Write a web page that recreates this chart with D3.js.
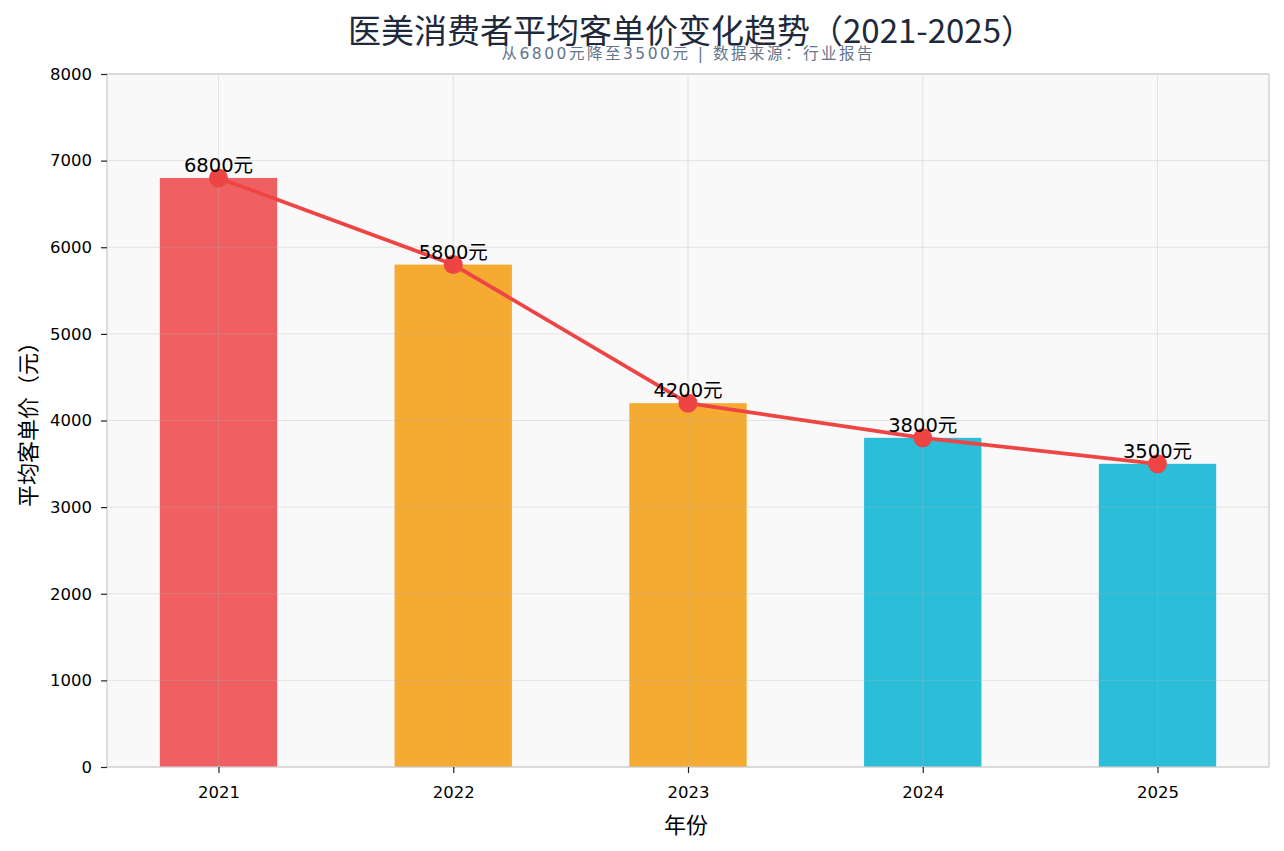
<!DOCTYPE html>
<meta charset="utf-8">
<style>
  body { margin: 0; background: #fff; }
  svg { display: block; font-family: "DejaVu Sans", "Noto Sans CJK SC", sans-serif; }
</style>
<svg width="1284" height="851"></svg>
<script src="https://d3js.org/d3.v7.min.js"></script>
<script>
// data
const years = ["2021", "2022", "2023", "2024", "2025"]
const prices = [6800, 5800, 4200, 3800, 3500]
const barColors = ["#F06062", "#F5AB32", "#F5AB32", "#2BBED8", "#2BBED8"]
const yTicks = [0, 1000, 2000, 3000, 4000, 5000, 6000, 7000, 8000]

const svg = d3.select("svg")
const plotL = 107, plotR = 1269, plotT = 74, plotB = 767

// x like matplotlib: bar positions 0..4, width 0.5, 5% margins
const x = d3.scaleLinear().domain([-0.475, 4.475]).range([plotL, plotR])
const y = d3.scaleLinear().domain([0, 8000]).range([plotB, plotT])
const barW = x(0.5) - x(0)

// plot background
svg.append("rect")
  .attr("x", plotL).attr("y", plotT)
  .attr("width", plotR - plotL).attr("height", plotB - plotT)
  .attr("fill", "#f9f9f9")

// bars
svg.selectAll("rect.bar")
  .data(prices)
  .enter().append("rect")
  .attr("class", "bar")
  .attr("x", (d, i) => x(i) - barW / 2)
  .attr("y", d => y(d))
  .attr("width", barW)
  .attr("height", d => y(0) - y(d))
  .attr("fill", (d, i) => barColors[i])

// grid drawn over bars
const grid = svg.append("g").attr("stroke", "#b0b0b0").attr("stroke-opacity", 0.3).attr("stroke-width", 1)
grid.selectAll("line.h").data(yTicks).enter().append("line")
  .attr("x1", plotL).attr("x2", plotR)
  .attr("y1", d => y(d)).attr("y2", d => y(d))
grid.selectAll("line.v").data(years).enter().append("line")
  .attr("x1", (d, i) => x(i)).attr("x2", (d, i) => x(i))
  .attr("y1", plotT).attr("y2", plotB)

// trend line
const line = d3.line().x((d, i) => x(i)).y(d => y(d))
svg.append("path")
  .attr("d", line(prices))
  .attr("fill", "none")
  .attr("stroke", "#EF4444")
  .attr("stroke-width", 3.8)
  .attr("stroke-linejoin", "round")

svg.selectAll("circle.pt").data(prices).enter().append("circle")
  .attr("cx", (d, i) => x(i)).attr("cy", d => y(d))
  .attr("r", 9.5).attr("fill", "#EF4444")

// value labels
svg.selectAll("text.val").data(prices).enter().append("text")
  .attr("x", (d, i) => x(i)).attr("y", d => y(d) - 6)
  .attr("text-anchor", "middle")
  .attr("font-size", 19.5)
  .attr("fill", "#000")
  .text(d => d + "元")

// frame
svg.append("rect")
  .attr("x", plotL).attr("y", plotT)
  .attr("width", plotR - plotL).attr("height", plotB - plotT)
  .attr("fill", "none").attr("stroke", "#cccccc").attr("stroke-width", 1.2)

// axes
const yAxis = svg.append("g")
  .attr("transform", `translate(${plotL},0)`)
  .call(d3.axisLeft(y).tickValues(yTicks).tickSize(6).tickPadding(9).tickFormat(d3.format("d")))
const xAxis = svg.append("g")
  .attr("transform", `translate(0,${plotB})`)
  .call(d3.axisBottom(x).tickValues(d3.range(years.length)).tickSize(6).tickPadding(13).tickFormat(i => years[i]))
for (const g of [xAxis, yAxis]) {
  g.select(".domain").remove()
  g.selectAll(".tick line").attr("stroke", "#222").attr("stroke-width", 1.2)
  g.selectAll(".tick text").attr("font-size", 16.5).attr("fill", "#000")
    .attr("font-family", "'DejaVu Sans', 'Noto Sans CJK SC', sans-serif")
}

// titles
svg.append("text")
  .attr("x", 691).attr("y", 43)
  .attr("text-anchor", "middle")
  .attr("font-family", "'Noto Sans CJK SC', sans-serif")
  .attr("font-size", 33).attr("fill", "#1e293b")
  .text("医美消费者平均客单价变化趋势（2021-2025）")
svg.append("text")
  .attr("x", 687).attr("y", 59)
  .attr("text-anchor", "middle")
  .attr("font-size", 15.5).attr("fill", "#64748b")
  .attr("textLength", 371).attr("lengthAdjust", "spacing")
  .text("从6800元降至3500元 | 数据来源：行业报告")

svg.append("text")
  .attr("x", 686).attr("y", 833)
  .attr("text-anchor", "middle")
  .attr("font-size", 22).attr("fill", "#000")
  .text("年份")
svg.append("text")
  .attr("transform", "translate(36,419) rotate(-90)")
  .attr("text-anchor", "middle")
  .attr("font-size", 22).attr("fill", "#000")
  .text("平均客单价（元）")
</script>
